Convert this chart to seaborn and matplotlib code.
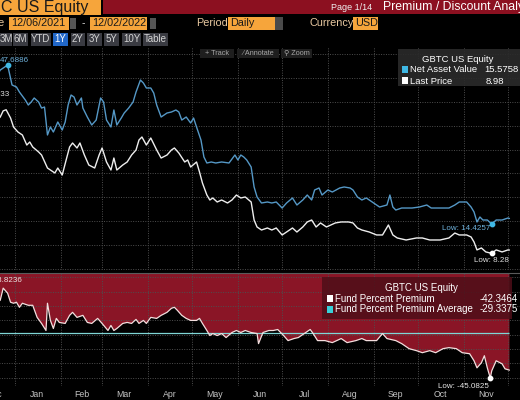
import matplotlib
matplotlib.use("Agg")
import matplotlib.pyplot as plt
import seaborn as sns
import pandas as pd
from matplotlib.patches import Rectangle

# ---------------- data ----------------
nav_dates = ["2021-12-06", "2021-12-13", "2021-12-17", "2021-12-22", "2021-12-27", "2021-12-30",
             "2022-01-02", "2022-01-04", "2022-01-08", "2022-01-10", "2022-01-12", "2022-01-14",
             "2022-01-17", "2022-01-19", "2022-01-21", "2022-01-23", "2022-01-25", "2022-01-27",
             "2022-01-30", "2022-02-02", "2022-02-04", "2022-02-06", "2022-02-08", "2022-02-10",
             "2022-02-12", "2022-02-15", "2022-02-16", "2022-02-19", "2022-02-22", "2022-02-25",
             "2022-02-28", "2022-03-02", "2022-03-04", "2022-03-07", "2022-03-09", "2022-03-11",
             "2022-03-14", "2022-03-16", "2022-03-19", "2022-03-22", "2022-03-24", "2022-03-27",
             "2022-03-29", "2022-03-31", "2022-04-03", "2022-04-05", "2022-04-07", "2022-04-10",
             "2022-04-14", "2022-04-17", "2022-04-20", "2022-04-22", "2022-04-24", "2022-04-27",
             "2022-04-30", "2022-05-02", "2022-05-04", "2022-05-07", "2022-05-09", "2022-05-11",
             "2022-05-14", "2022-05-17", "2022-05-21", "2022-05-26", "2022-05-30", "2022-06-01",
             "2022-06-03", "2022-06-05", "2022-06-07", "2022-06-10", "2022-06-12", "2022-06-14",
             "2022-06-17", "2022-06-21", "2022-06-24", "2022-06-27", "2022-07-01", "2022-07-04",
             "2022-07-08", "2022-07-11", "2022-07-15", "2022-07-18", "2022-07-21", "2022-07-23",
             "2022-07-26", "2022-07-28", "2022-08-01", "2022-08-04", "2022-08-09", "2022-08-12",
             "2022-08-16", "2022-08-18", "2022-08-21", "2022-08-24", "2022-08-27", "2022-08-31",
             "2022-09-05", "2022-09-10", "2022-09-12", "2022-09-14", "2022-09-16", "2022-09-20",
             "2022-09-27", "2022-10-02", "2022-10-07", "2022-10-10", "2022-10-16", "2022-10-22",
             "2022-10-26", "2022-10-29", "2022-11-03", "2022-11-06", "2022-11-08", "2022-11-10",
             "2022-11-12", "2022-11-14", "2022-11-17", "2022-11-20", "2022-11-23", "2022-11-27",
             "2022-12-01", "2022-12-02"]
nav_values = [46.0, 44.5, 43.9, 46.64, 47.6886, 43.51,
              43.09, 42.04, 40.37, 39.32, 39.95, 40.79,
              39.95, 38.69, 38.90, 33.05, 34.72, 33.67,
              35.77, 34.09, 35.77, 39.32, 41.41, 40.99,
              39.32, 40.79, 38.69, 36.81, 35.14, 36.18,
              40.79, 39.95, 36.18, 34.72, 38.28, 35.14,
              36.60, 37.65, 38.69, 39.95, 42.04, 44.55,
              43.92, 42.88, 42.88, 41.83, 39.32, 36.81,
              37.65, 37.86, 38.28, 37.86, 36.18, 36.81,
              35.56, 36.60, 34.72, 32.00, 28.44, 27.19,
              27.40, 27.19, 27.40, 27.19, 28.86, 27.82,
              28.86, 28.44, 27.82, 26.35, 22.17, 20.08,
              18.82, 19.03, 18.82, 19.03, 17.77, 18.82,
              19.87, 18.40, 19.45, 20.49, 19.45, 21.54,
              21.96, 20.49, 21.54, 21.12, 21.96, 22.17,
              21.96, 21.54, 20.08, 19.45, 19.87, 19.03,
              17.98, 18.40, 20.49, 17.98, 17.35, 17.77,
              17.77, 17.98, 18.40, 17.77, 17.77, 17.77,
              18.40, 19.03, 19.03, 17.98, 16.94, 14.85,
              15.89, 15.26, 15.26, 14.4257, 15.26, 15.26,
              15.68, 15.5758]

price_dates = ["2021-12-06", "2021-12-13", "2021-12-17", "2021-12-22", "2021-12-24", "2021-12-26",
               "2021-12-29", "2021-12-31", "2022-01-03", "2022-01-06", "2022-01-09", "2022-01-11",
               "2022-01-13", "2022-01-17", "2022-01-19", "2022-01-23", "2022-01-25", "2022-01-28",
               "2022-01-30", "2022-02-02", "2022-02-05", "2022-02-07", "2022-02-09", "2022-02-12",
               "2022-02-14", "2022-02-17", "2022-02-20", "2022-02-24", "2022-02-27", "2022-03-01",
               "2022-03-04", "2022-03-07", "2022-03-09", "2022-03-11", "2022-03-15", "2022-03-18",
               "2022-03-21", "2022-03-24", "2022-03-26", "2022-03-28", "2022-03-31", "2022-04-03",
               "2022-04-07", "2022-04-10", "2022-04-14", "2022-04-17", "2022-04-19", "2022-04-22",
               "2022-04-26", "2022-04-28", "2022-04-30", "2022-05-04", "2022-05-06", "2022-05-08",
               "2022-05-11", "2022-05-13", "2022-05-15", "2022-05-18", "2022-05-21", "2022-05-25",
               "2022-05-28", "2022-05-31", "2022-06-03", "2022-06-06", "2022-06-10", "2022-06-12",
               "2022-06-14", "2022-06-17", "2022-06-21", "2022-06-24", "2022-06-27", "2022-07-01",
               "2022-07-04", "2022-07-08", "2022-07-11", "2022-07-15", "2022-07-18", "2022-07-21",
               "2022-07-24", "2022-07-27", "2022-07-31", "2022-08-03", "2022-08-06", "2022-08-10",
               "2022-08-15", "2022-08-18", "2022-08-21", "2022-08-24", "2022-08-29", "2022-09-03",
               "2022-09-07", "2022-09-11", "2022-09-14", "2022-09-17", "2022-09-23", "2022-09-30",
               "2022-10-04", "2022-10-09", "2022-10-16", "2022-10-22", "2022-10-26", "2022-10-29",
               "2022-11-03", "2022-11-06", "2022-11-08", "2022-11-10", "2022-11-13", "2022-11-16",
               "2022-11-20", "2022-11-23", "2022-11-27", "2022-12-01", "2022-12-02"]
price_values = [37.6, 35.9, 35.2, 36.81, 38.10, 38.33,
                36.60, 34.72, 33.67, 33.05, 30.95, 31.58,
                30.54, 29.49, 28.86, 26.14, 25.72, 25.10,
                26.14, 24.68, 28.23, 30.54, 31.37, 30.33,
                31.37, 28.86, 26.77, 26.14, 28.86, 30.33,
                27.40, 25.72, 28.23, 25.72, 26.77, 27.40,
                28.86, 29.91, 32.00, 32.63, 30.95, 32.42,
                29.91, 28.23, 28.86, 29.91, 30.33, 29.28,
                27.40, 27.82, 26.35, 27.40, 25.31, 23.00,
                20.49, 19.45, 19.87, 19.03, 19.45, 18.82,
                19.45, 20.49, 19.87, 20.08, 19.03, 15.26,
                13.80, 13.17, 13.59, 13.17, 13.59, 12.13,
                12.75, 13.59, 12.75, 13.80, 14.85, 15.26,
                13.80, 14.64, 13.80, 14.22, 14.64, 14.85,
                14.85, 14.64, 13.59, 13.17, 12.75, 12.13,
                12.13, 14.22, 12.13, 11.50, 11.08, 11.50,
                11.50, 11.08, 11.08, 11.50, 12.54, 12.13,
                12.13, 11.71, 10.66, 9.00, 9.41, 8.58,
                8.28, 9.00, 8.58, 9.00, 8.98]

prem_dates = ["2021-12-06", "2021-12-13", "2021-12-17", "2021-12-22", "2021-12-24", "2021-12-27",
              "2021-12-29", "2021-12-31", "2022-01-02", "2022-01-04", "2022-01-06", "2022-01-10",
              "2022-01-13", "2022-01-16", "2022-01-19", "2022-01-22", "2022-01-23", "2022-01-25",
              "2022-01-27", "2022-01-29", "2022-01-31", "2022-02-04", "2022-02-07", "2022-02-09",
              "2022-02-12", "2022-02-16", "2022-02-19", "2022-02-22", "2022-02-26", "2022-03-01",
              "2022-03-05", "2022-03-07", "2022-03-09", "2022-03-11", "2022-03-15", "2022-03-18",
              "2022-03-21", "2022-03-24", "2022-03-26", "2022-03-29", "2022-03-31", "2022-04-03",
              "2022-04-07", "2022-04-10", "2022-04-14", "2022-04-17", "2022-04-19", "2022-04-21",
              "2022-04-24", "2022-04-27", "2022-04-30", "2022-05-04", "2022-05-06", "2022-05-08",
              "2022-05-11", "2022-05-13", "2022-05-15", "2022-05-18", "2022-05-21", "2022-05-24",
              "2022-05-28", "2022-05-31", "2022-06-03", "2022-06-06", "2022-06-10", "2022-06-14",
              "2022-06-15", "2022-06-18", "2022-06-22", "2022-06-25", "2022-06-28", "2022-07-02",
              "2022-07-05", "2022-07-09", "2022-07-12", "2022-07-17", "2022-07-20", "2022-07-22",
              "2022-07-25", "2022-07-30", "2022-08-04", "2022-08-10", "2022-08-14", "2022-08-20",
              "2022-08-24", "2022-08-27", "2022-08-31", "2022-09-03", "2022-09-07", "2022-09-10",
              "2022-09-16", "2022-09-20", "2022-09-25", "2022-09-30", "2022-10-04", "2022-10-09",
              "2022-10-13", "2022-10-18", "2022-10-22", "2022-10-27", "2022-10-31", "2022-11-05",
              "2022-11-08", "2022-11-10", "2022-11-13", "2022-11-15", "2022-11-17", "2022-11-19",
              "2022-11-20", "2022-11-23", "2022-11-27", "2022-11-29", "2022-12-02"]
prem_values = [-18.3, -19.2, -19.8, -18.03, -13.8236, -15.57,
               -18.73, -19.08, -18.73, -20.49, -19.08, -19.79,
               -19.79, -24.00, -26.10, -28.56, -19.08, -25.05,
               -27.86, -24.35, -25.75, -26.10, -23.29, -22.24,
               -24.00, -23.29, -25.75, -26.10, -24.35, -26.10,
               -28.56, -26.80, -28.56, -27.86, -26.10, -25.75,
               -26.10, -24.70, -26.10, -25.05, -26.10, -24.00,
               -24.35, -23.29, -22.24, -20.84, -20.49, -21.54,
               -23.29, -24.35, -25.05, -25.05, -24.35, -26.10,
               -28.56, -30.31, -29.61, -30.31, -29.61, -31.01,
               -29.26, -28.56, -29.26, -28.56, -29.26, -29.61,
               -33.12, -29.26, -28.56, -28.56, -28.21, -30.31,
               -32.07, -31.36, -31.01, -29.26, -28.21, -29.61,
               -32.07, -32.07, -32.77, -31.36, -32.77, -32.07,
               -31.36, -32.07, -32.07, -32.07, -29.61, -31.36,
               -32.07, -33.12, -34.87, -35.57, -36.28, -35.57,
               -36.28, -34.87, -34.52, -34.87, -36.28, -36.63,
               -39.08, -41.54, -39.78, -37.33, -41.54, -45.0825,
               -42.59, -39.08, -40.14, -41.89, -42.3464]
prem_average = -29.3375

month_labels = ["Dec", "Jan", "Feb", "Mar", "Apr", "May", "Jun", "Jul", "Aug", "Sep", "Oct", "Nov"]
month_label_dates = ["2021-12-18", "2022-01-16", "2022-02-15", "2022-03-16", "2022-04-16", "2022-05-16",
                     "2022-06-16", "2022-07-16", "2022-08-16", "2022-09-16", "2022-10-16", "2022-11-16"]
month_start_dates = ["2022-01-01", "2022-02-01", "2022-03-01", "2022-04-01", "2022-05-01", "2022-06-01",
                     "2022-07-01", "2022-08-01", "2022-09-01", "2022-10-01", "2022-11-01", "2022-12-01"]

nav = pd.DataFrame({"date": pd.to_datetime(nav_dates), "value": nav_values})
price = pd.DataFrame({"date": pd.to_datetime(price_dates), "value": price_values})
prem = pd.DataFrame({"date": pd.to_datetime(prem_dates), "value": prem_values})

# ---------------- style ----------------
sns.set_theme(style="dark")
plt.rcParams["font.family"] = ["Liberation Sans", "DejaVu Sans"]
plt.rcParams["axes.facecolor"] = "black"
plt.rcParams["figure.facecolor"] = "black"

W, H = 520, 400
ORANGE = "#f6a53b"
DARKRED = "#8c1020"
FILLRED = "#8a1526"
NAVBLUE = "#5598c6"
CYAN = "#3fb8e4"
AVGCYAN = "#7fd6d6"
GRID = "#4e4e4e"


def fr(x0, y0, x1, y1):
    return [x0 / W, 1 - y1 / H, (x1 - x0) / W, (y1 - y0) / H]


def fx(x):
    return x / W


def fy(y):
    return 1 - y / H


fig = plt.figure(figsize=(5.2, 4.0), dpi=100, facecolor="black")

jan1 = pd.Timestamp("2022-01-01")
xmin = jan1 + pd.Timedelta(days=-37.26)
xmax = jan1 + pd.Timedelta(days=355.7)

ax1 = fig.add_axes(fr(-40, 47, 540, 270))
ax2 = fig.add_axes(fr(-40, 273, 540, 386))

for ax in (ax1, ax2):
    ax.set_facecolor("black")
    for s in ax.spines.values():
        s.set_visible(False)
    ax.set_xlim(xmin, xmax)
    ax.tick_params(axis="both", which="both", length=0)

# ---- top panel ----
sns.lineplot(data=nav, x="date", y="value", ax=ax1, color=NAVBLUE, linewidth=1.0, zorder=3)
sns.lineplot(data=price, x="date", y="value", ax=ax1, color="#eeeeee", linewidth=1.0, zorder=3)
ax1.set_xlim(xmin, xmax)
ax1.set_ylim(4.8, 51.46)
ax1.set_yticks([5, 10, 15, 20, 25, 30, 35, 40, 45, 50])
ax1.set_yticklabels([])
ax1.set_xticks([])
ax1.set_xticks(pd.to_datetime(month_start_dates), minor=True)
ax1.grid(True, which="minor", axis="x", color=GRID, linestyle=(0, (1, 1.5)), linewidth=0.7)
ax1.grid(True, which="major", axis="y", color=GRID, linestyle=(0, (1, 1.5)), linewidth=0.7)
ax1.set_xlabel("")
ax1.set_ylabel("")

i_hi = nav["value"].idxmax()
i_lo = nav["value"].idxmin()
ax1.scatter(nav["date"][[i_hi, i_lo]], nav["value"][[i_hi, i_lo]], s=10, color=CYAN, zorder=4)
ax1.annotate(f"{nav['value'][i_hi]:.4f}", (nav["date"][i_hi], nav["value"][i_hi]),
             xytext=(21, 5), textcoords="offset pixels", ha="right", va="center",
             fontsize=5.8, color="#6fb2dc")
ax1.annotate(f"Low: {nav['value'][i_lo]:.4f}", (nav["date"][i_lo], nav["value"][i_lo]),
             xytext=(-1, -5), textcoords="offset pixels", ha="right", va="center",
             fontsize=5.8, color="#6fb2dc")

p_hi = price["value"].idxmax()
p_lo = price["value"].idxmin()
ax1.scatter([price["date"][p_lo]], [price["value"][p_lo]], s=10, color="white", zorder=4)
ax1.annotate(f"{price['value'][p_hi]:.2f}", (price["date"][p_hi], price["value"][p_hi]),
             xytext=(4, 15), textcoords="offset pixels", ha="right", va="center",
             fontsize=5.8, color="#e0e0e0")
ax1.annotate(f"Low: {price['value'][p_lo]:.2f}", (price["date"][p_lo], price["value"][p_lo]),
             xytext=(0, -7), textcoords="offset pixels", ha="center", va="center",
             fontsize=5.8, color="#e0e0e0")

# ---- bottom panel ----
ytop, ybot = -8.56, -47.86
ax2.fill_between(prem["date"], prem["value"], ytop, color=FILLRED, linewidth=0, zorder=1)
ax2.hlines(prem_average, prem["date"].iloc[0], prem["date"].iloc[-1], color=AVGCYAN, linewidth=0.9, zorder=3)
sns.lineplot(data=prem, x="date", y="value", ax=ax2, color="#f3dede", linewidth=0.9, zorder=4)
ax2.set_xlim(xmin, xmax)
ax2.set_ylim(ybot, ytop)
ax2.set_yticks([-45, -40, -35, -30, -25, -20, -15, -10])
ax2.set_yticklabels([])
ax2.set_axisbelow(False)
ax2.set_xticks(pd.to_datetime(month_label_dates))
ax2.set_xticklabels(month_labels, fontsize=6.3, color="#c4c4c4")
ax2.set_xticks(pd.to_datetime(month_start_dates), minor=True)
ax2.grid(False, which="major", axis="x")
ax2.grid(True, which="minor", axis="x", color=GRID, linestyle=(0, (1, 1.5)), linewidth=0.7, zorder=2)
ax2.grid(True, which="major", axis="y", color=GRID, linestyle=(0, (1, 1.5)), linewidth=0.7, zorder=2)
ax2.tick_params(axis="x", pad=3)
ax2.set_xlabel("")
ax2.set_ylabel("")

q_hi = prem["value"].idxmax()
q_lo = prem["value"].idxmin()
ax2.scatter([prem["date"][q_lo]], [prem["value"][q_lo]], s=10, color="white", zorder=5)
ax2.annotate(f"{prem['value'][q_hi]:.4f}", (prem["date"][q_hi], prem["value"][q_hi]),
             xytext=(19, 8), textcoords="offset pixels", ha="right", va="center",
             fontsize=5.8, color="#f0e0e0")
ax2.annotate(f"Low: {prem['value'][q_lo]:.4f}", (prem["date"][q_lo], prem["value"][q_lo]),
             xytext=(-1, -8), textcoords="offset pixels", ha="right", va="center",
             fontsize=5.8, color="#e8e8e8")

# separator line at the top of the bottom panel
fig.add_artist(plt.Line2D([0, 1], [fy(273), fy(273)], color="#5a5a5a", linewidth=0.8))

# ---------------- header ----------------
def box(x0, y0, x1, y1, color, alpha=1.0):
    fig.add_artist(Rectangle((fx(x0), fy(y1)), (x1 - x0) / W, (y1 - y0) / H,
                             facecolor=color, edgecolor="none", alpha=alpha,
                             transform=fig.transFigure))


def txt(x, y, s, size=7, color="white", ha="left", weight="normal"):
    fig.text(fx(x), fy(y), s, fontsize=size, color=color, ha=ha, va="center", fontweight=weight)


# row 1
box(0, 0, 101, 15, ORANGE)
txt(1, 7.5, "C US Equity", size=11.5, color="#1a1a1a")
box(103, 0, 520, 14, DARKRED)
txt(331, 7.5, "Page 1/14", size=6.5, color="#f0f0f0")
txt(383, 7, "Premium / Discount Analy", size=8.8, color="white")

# row 2
AMBER = "#e9c9a1"
txt(-2, 23.5, "e", size=8, color=AMBER)
box(9, 17, 69, 30, ORANGE)
txt(11, 23.5, "12/06/2021", size=7.8, color="#1a1a1a")
box(70, 18, 76, 29, "#555555")
txt(82, 23.5, "-", size=7.5, color="#dddddd")
box(90, 17, 147, 30, ORANGE)
txt(92, 23.5, "12/02/2022", size=7.8, color="#1a1a1a")
box(150, 18, 156, 29, "#555555")
txt(196, 23.5, "Period", size=7.8, color=AMBER)
box(228, 17, 275, 30, ORANGE)
txt(230, 23.5, "Daily", size=7.8, color="#1a1a1a")
box(275, 17, 283, 30, "#4a4a4a")
txt(310, 23.5, "Currency", size=7.8, color=AMBER)
box(353, 17, 378, 30, ORANGE)
txt(355, 23.5, "USD", size=7.8, color="#1a1a1a")

# row 3 buttons
buttons = [("3M", 0, 12), ("6M", 13, 28), ("YTD", 31, 51), ("1Y", 53, 68), ("2Y", 71, 85),
           ("3Y", 87, 102), ("5Y", 104, 119), ("10Y", 122, 141), ("Table", 143, 168)]
for lab, b0, b1 in buttons:
    box(b0, 33, b1, 46, "#2167c8" if lab == "1Y" else "#3a3b42")
    txt((b0 + b1) / 2, 39.5, lab, size=7, color="white" if lab == "1Y" else "#d4d4d4", ha="center")

# chart tool buttons
for lab, b0, b1 in [("+ Track", 200, 234), ("⁄ Annotate", 237, 279), ("⚲ Zoom", 281, 312)]:
    box(b0, 49, b1, 58, "#1e1e1e")
    txt((b0 + b1) / 2, 53.5, lab, size=5.2, color="#a8a8a8", ha="center")

# ---------------- legends ----------------
box(398, 49, 522, 86, "#2a2a2a", alpha=0.92)
txt(458, 60, "GBTC US Equity", size=6.8, color="white", ha="center")
box(402, 66, 408, 73, CYAN)
txt(410, 70, "Net Asset Value", size=6.8, color="white")
txt(519, 70, f"{nav_values[-1]:.4f}", size=6.8, color="white", ha="right")
box(402, 77, 408, 84, "white")
txt(410, 81, "Last Price", size=6.8, color="white")
txt(504, 81, f"{price_values[-1]:.2f}", size=6.8, color="white", ha="right")

box(322, 277, 512, 319, "#4e0e18", alpha=0.85)
txt(421, 288, "GBTC US Equity", size=7.0, color="white", ha="center")
box(327, 295, 333, 302, "white")
txt(335, 298.5, "Fund Percent Premium", size=7.0, color="white")
txt(518, 298.5, f"{prem_values[-1]:.4f}", size=7.0, color="white", ha="right")
box(327, 306, 333, 313, "#38d0d8")
txt(335, 309.5, "Fund Percent Premium Average", size=7.0, color="white")
txt(518, 309.5, f"{prem_average:.4f}", size=7.0, color="white", ha="right")

fig.savefig("out.png", dpi=100, facecolor="black")
